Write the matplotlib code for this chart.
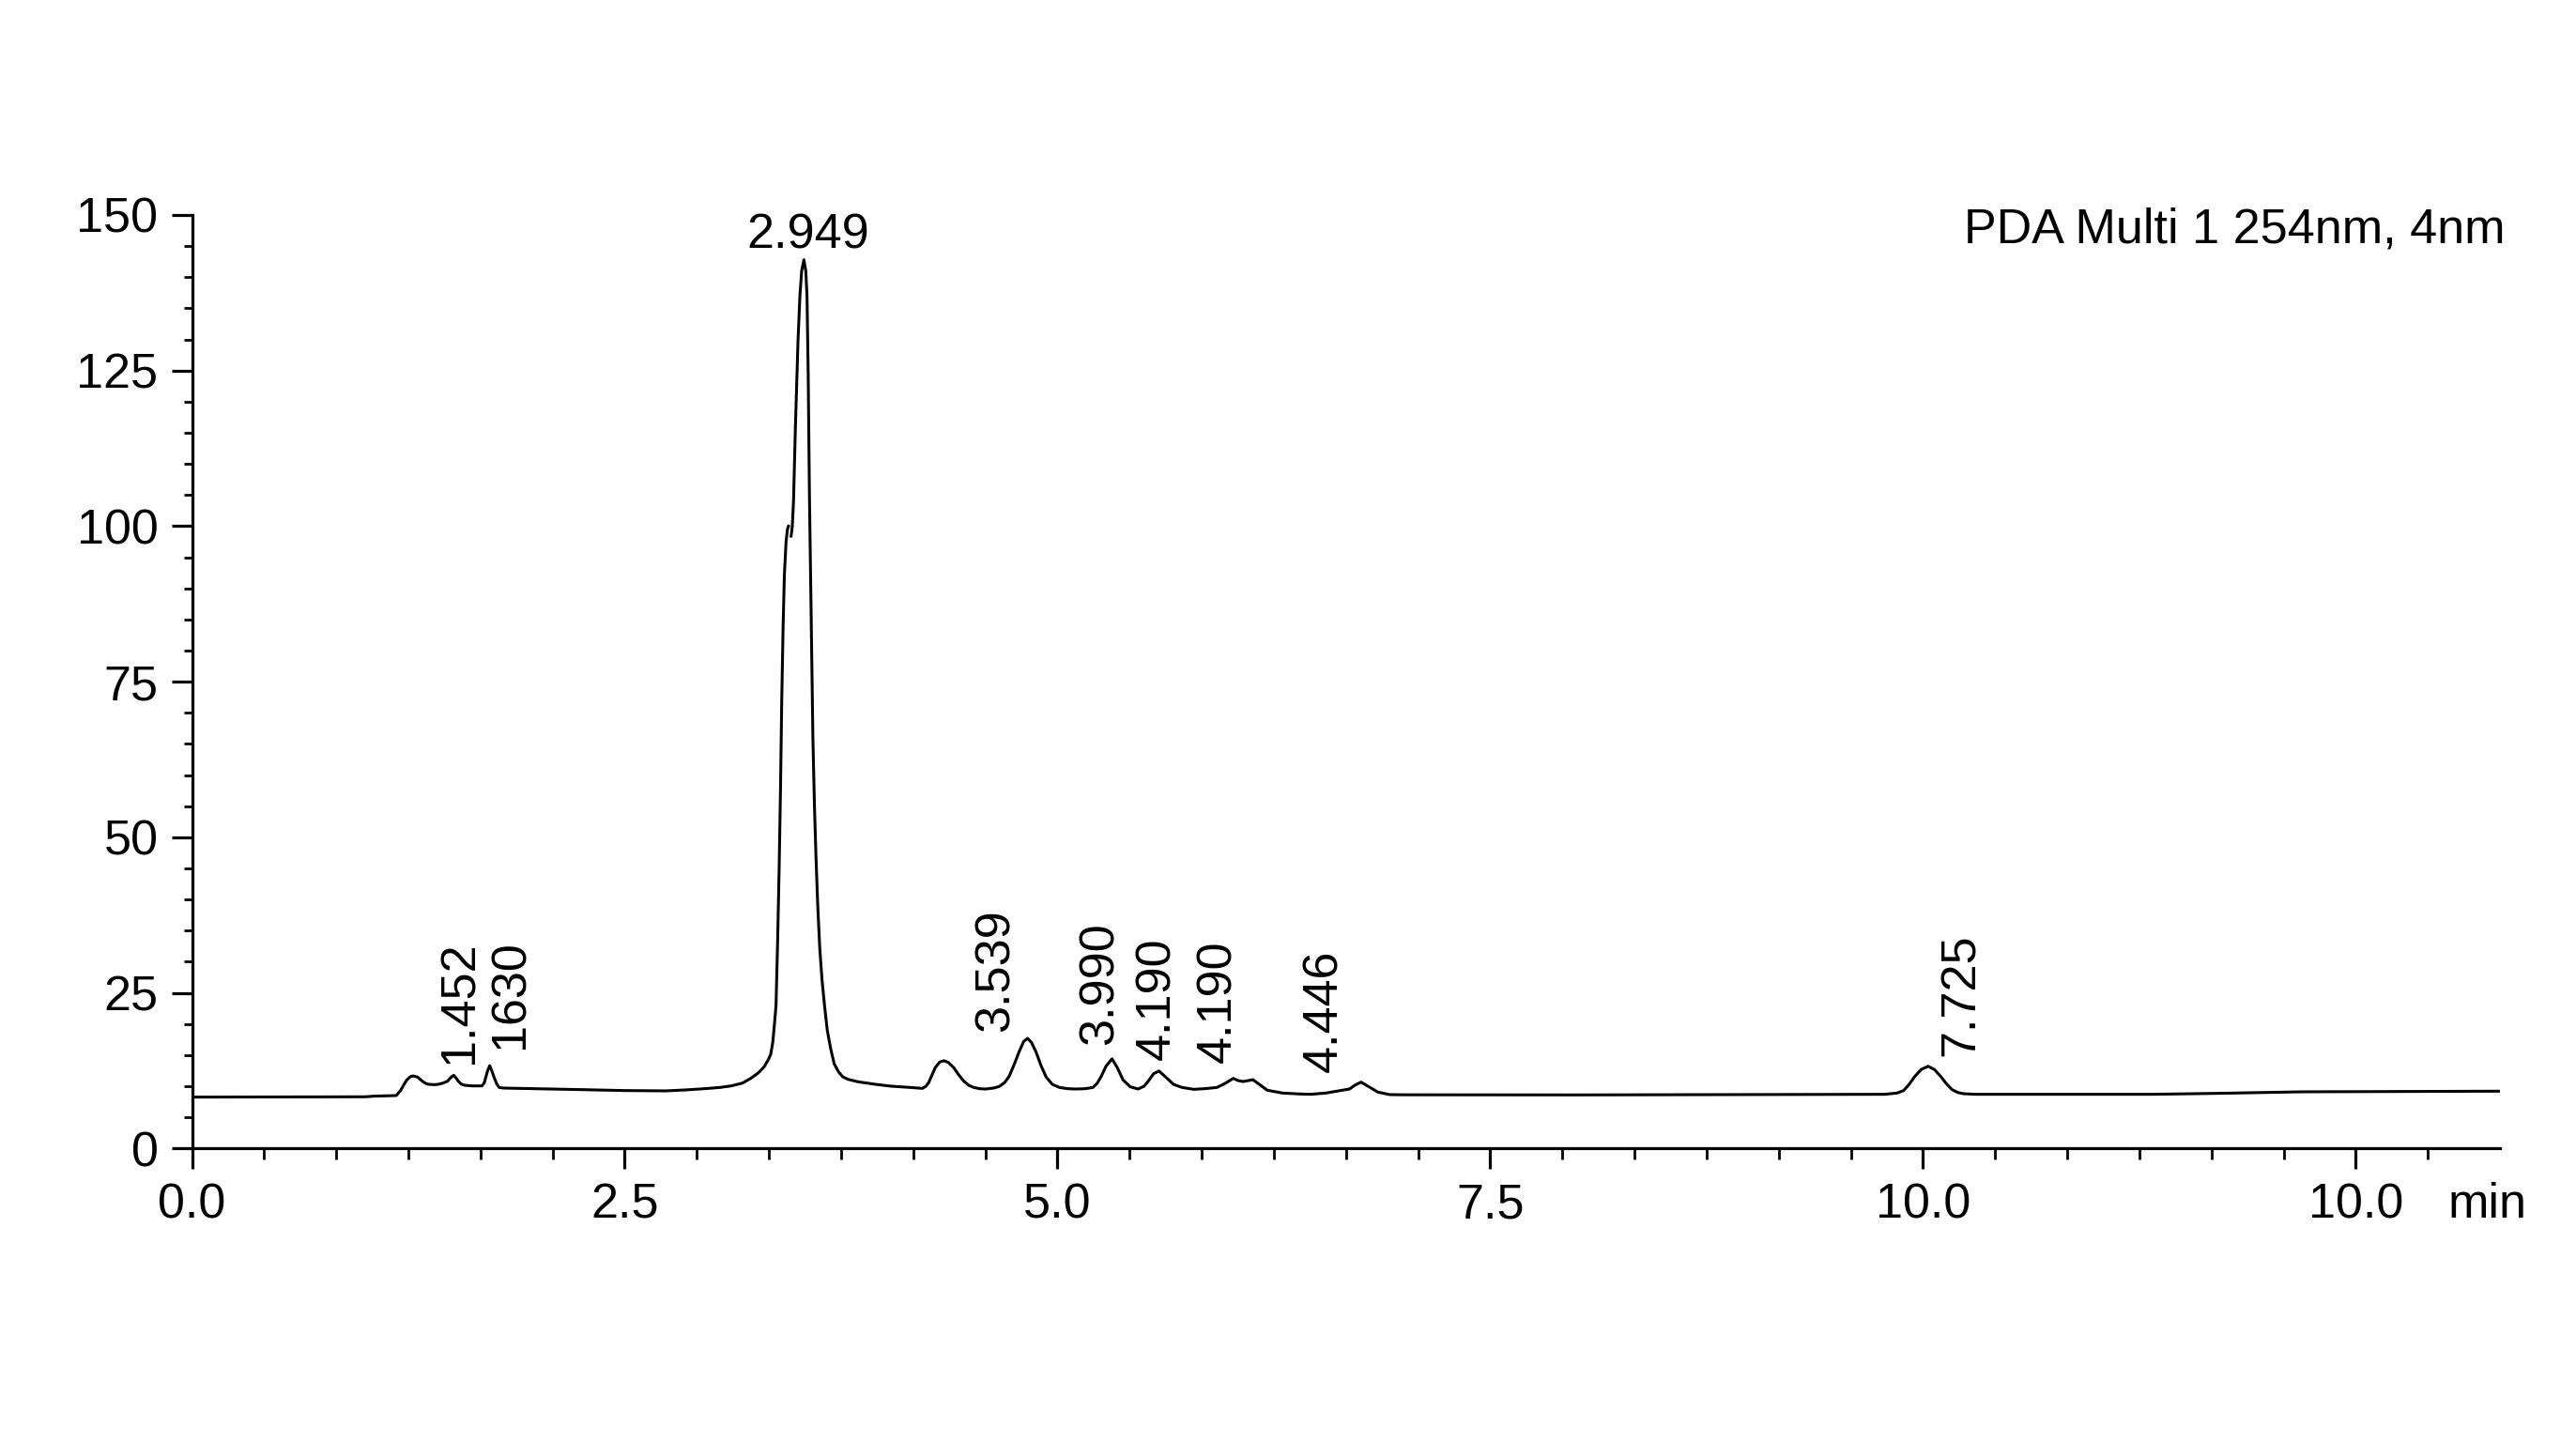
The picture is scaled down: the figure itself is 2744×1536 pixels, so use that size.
import numpy as np
import matplotlib
matplotlib.use("Agg")
import matplotlib.pyplot as plt
from matplotlib.ticker import FixedLocator, MultipleLocator

plt.rcParams['font.family'] = ['Liberation Sans', 'DejaVu Sans']

# ---- data (time in min, signal in mAU) ----
time_min = [
    0.00, 0.50, 1.00, 1.05, 1.18, 1.205, 1.225, 1.241, 1.26, 1.277, 1.304, 1.331,
    1.35, 1.368, 1.40, 1.422, 1.45, 1.476, 1.495, 1.512, 1.526, 1.539, 1.555, 1.575,
    1.62, 1.675, 1.688, 1.696, 1.708, 1.72, 1.733, 1.747, 1.76, 1.774, 1.80, 1.892,
    2.0, 2.25, 2.5, 2.735, 2.85, 2.96, 3.05, 3.115, 3.18, 3.23, 3.27, 3.305, 3.33,
    3.343, 3.355, 3.365, 3.374, 3.383, 3.392, 3.40, 3.407, 3.415, 3.422, 3.432,
    3.440, 3.446, np.nan, 3.461, 3.468, 3.475, 3.486, 3.501, 3.512, 3.522, 3.535,
    3.546, 3.553, 3.56, 3.567, 3.573, 3.58, 3.587, 3.596, 3.605, 3.615, 3.627,
    3.64, 3.654, 3.67, 3.69, 3.71, 3.735, 3.76, 3.79, 3.85, 3.95, 4.04, 4.15, 4.22,
    4.24, 4.256, 4.275, 4.294, 4.32, 4.345, 4.37, 4.40, 4.43, 4.459, 4.49, 4.517,
    4.55, 4.585, 4.63, 4.663, 4.695, 4.721, 4.75, 4.779, 4.805, 4.827, 4.85, 4.876,
    4.905, 4.934, 4.97, 5.011, 5.06, 5.108, 5.16, 5.205, 5.23, 5.253, 5.28, 5.315,
    5.345, 5.379, 5.42, 5.466, 5.50, 5.524, 5.555, 5.586, 5.62, 5.67, 5.72, 5.786,
    5.85, 5.921, 5.965, 6.015, 6.045, 6.073, 6.10, 6.129, 6.17, 6.212, 6.30, 6.40,
    6.464, 6.55, 6.687, 6.72, 6.754, 6.80, 6.851, 6.919, 7.0, 8.0, 9.0, 9.78, 9.85,
    9.888, 9.92, 9.952, 9.99, 10.03, 10.065, 10.103, 10.135, 10.168, 10.20, 10.232,
    10.30, 11.0, 11.33, 11.7, 12.19, 12.8, 13.33,
]
signal_mau = [
    8.25, 8.27, 8.30, 8.40, 8.50, 9.3, 10.3, 11.0, 11.5, 11.66, 11.46, 10.8,
    10.45, 10.3, 10.25, 10.3, 10.5, 10.8, 11.4, 11.76, 11.3, 10.8, 10.35, 10.15,
    10.05, 10.05, 10.5, 11.3, 12.5, 13.3, 12.4, 11.3, 10.4, 9.8, 9.7, 9.65,
    9.6, 9.45, 9.3, 9.25, 9.4, 9.6, 9.8, 10.05, 10.5, 11.3, 12.1, 13.1, 14.3,
    15.1, 17.0, 20.0, 23.0, 33.0, 45.0, 58.0, 72.0, 84.0, 92.0, 97.5,
    99.5, 100.0, np.nan, 98.4, 100.0, 104.0, 116.0, 129.8, 137.0, 141.0, 142.8,
    141.0, 137.0, 124.0, 105.0, 93.0, 79.0, 66.0, 55.0, 46.7, 39.0, 32.0,
    27.0, 23.0, 19.0, 16.0, 13.6, 12.3, 11.5, 11.1, 10.7, 10.3, 10.0, 9.8, 9.65,
    10.0, 10.6, 11.8, 13.0, 13.9, 14.1, 13.8, 13.0, 11.8, 10.8, 10.1, 9.8,
    9.6, 9.55, 9.7, 9.95, 10.6, 11.6, 13.5, 15.6, 17.2, 17.7, 17.0, 15.5,
    13.3, 11.5, 10.3, 9.8, 9.6, 9.55, 9.6, 9.8, 10.5, 11.6, 13.2, 14.4,
    13.0, 11.0, 9.9, 9.55, 10.0, 10.8, 12.0, 12.45, 11.6, 10.3, 9.8, 9.5,
    9.6, 9.8, 10.4, 11.25, 10.9, 10.75, 10.9, 11.05, 10.2, 9.35, 8.9, 8.75,
    8.7, 8.9, 9.55, 10.2, 10.65, 9.9, 9.05, 8.65, 8.62, 8.6, 8.65, 8.7, 8.9,
    9.3, 10.3, 11.55, 12.7, 13.2, 12.7, 11.55, 10.4, 9.45, 9.0, 8.8,
    8.7, 8.7, 8.7, 8.85, 9.1, 9.15, 9.2,
]

# peak labels (text, time of label centre, signal at label foot)
peak_labels = ["1.452", "1630", "3.539", "3.990", "4.190", "4.190", "4.446", "7.725"]
peak_label_t = [1.547, 1.84, 4.645, 5.246, 5.575, 5.93, 6.54, 10.22]
peak_label_v = [13.6, 16.1, 18.7, 16.6, 14.2, 13.8, 12.2, 14.9]
main_label = "2.949"
main_label_t = 3.56
main_label_v = 144.7

x_ticks = [0.0, 2.5, 5.0, 7.5, 10.0, 12.5]
x_tick_labels = ["0.0", "2.5", "5.0", "7.5", "10.0", "10.0"]
y_ticks = [0, 25, 50, 75, 100, 125, 150]
x_max = 13.333
title_text = "PDA Multi 1 254nm, 4nm"

FS = 37.5

fig = plt.figure(figsize=(27.44, 15.36), dpi=100)
ax = fig.add_axes([204.5 / 2744, 1 - 1223.3 / 1536, (2663 - 204.5) / 2744, (1223.3 - 229) / 1536])

ax.plot(time_min, signal_mau, color='black', lw=2.2, solid_joinstyle='round')

ax.set_xlim(0, x_max)
ax.set_ylim(0, 150)
for s in ['top', 'right']:
    ax.spines[s].set_visible(False)
for s in ['left', 'bottom']:
    ax.spines[s].set_linewidth(2.3)
ax.spines['bottom'].set_bounds(0, x_max)

ax.xaxis.set_major_locator(FixedLocator(x_ticks))
ax.set_xticklabels(x_tick_labels)
ax.xaxis.set_minor_locator(MultipleLocator(2.5 / 6))
ax.yaxis.set_major_locator(FixedLocator(y_ticks))
ax.yaxis.set_minor_locator(MultipleLocator(5))

ax.tick_params(axis='both', which='major', direction='out', length=15.5, width=2.3,
               labelsize=FS, pad=10.5)
ax.tick_params(axis='x', which='minor', direction='out', length=8.4, width=2.0)
ax.tick_params(axis='y', which='minor', direction='out', length=6.3, width=2.0)

# peak labels
for txt, t, v in zip(peak_labels, peak_label_t, peak_label_v):
    ax.text(t, v, txt, rotation=90, ha='center', va='bottom', fontsize=FS)
ax.text(main_label_t, main_label_v, main_label, ha='center', va='baseline', fontsize=FS)

# axis unit
ax.annotate("min", xy=(x_max, 0), xycoords=('data', 'axes fraction'),
            xytext=(-10, -53), textcoords='offset points',
            ha='center', va='baseline', fontsize=FS, annotation_clip=False)

fig.text(2669 / 2744, 1 - 245 / 1536, title_text, ha='right', va='center', fontsize=FS)

fig.savefig("out.png", dpi=100, facecolor='white')
